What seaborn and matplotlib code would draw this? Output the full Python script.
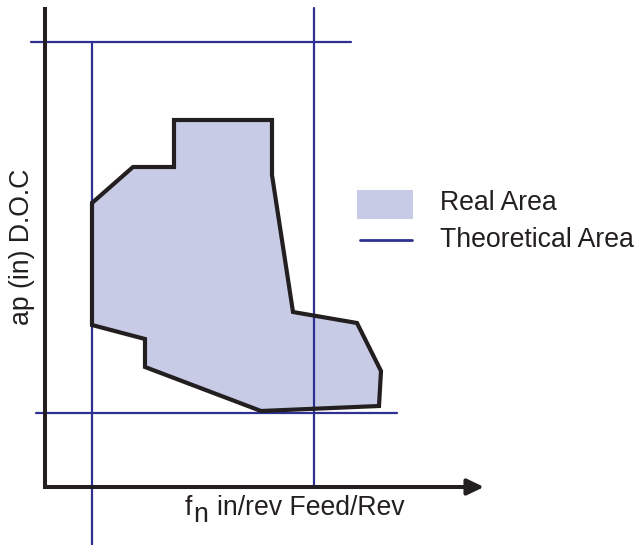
import matplotlib
matplotlib.use("Agg")
import matplotlib.pyplot as plt
from matplotlib.patches import Rectangle
import pandas as pd
import seaborn as sns

# ---- data (feed in/rev, depth of cut), arbitrary chart units ----
real_feed = [47, 88, 129, 129, 227, 227, 248, 312, 336, 334, 216, 100, 100, 47]
real_doc = [284, 320, 320, 367, 367, 312, 175, 164, 116, 81, 76, 120, 148, 162]

theo_feed_limits = [47, 269]   # min / max feed
theo_doc_limits = [74, 445]    # min / max depth of cut

legend_labels = ["Real Area", "Theoretical Area"]
x_label_main = "f"
x_label_sub = "n"
x_label_rest = "in/rev Feed/Rev"
y_label = "ap (in) D.O.C"

# ---- style ----
sns.set_style("white")
plt.rcParams["font.family"] = ["Liberation Sans", "DejaVu Sans"]

DARK = "#231f20"
BLUE = "#2e3192"
FILL = "#c8cbe6"
FS = 19.2

fig = plt.figure(figsize=(6.35, 5.45), dpi=100)
ax = fig.add_axes([0, 0, 1, 1])
ax.set_xlim(-45, 590)
ax.set_ylim(-58, 487)
ax.axis("off")

# real area fill
ax.fill(real_feed, real_doc, color=FILL, lw=0, zorder=1)

# theoretical area lines (extended beyond their intersections)
fmin, fmax = theo_feed_limits
dmin, dmax = theo_doc_limits
segs = pd.DataFrame({
    "feed": [fmin, fmin, fmax, fmax, -14, 306, -9, 352],
    "doc": [dmax, -58, 479, 0, dmax, dmax, dmin, dmin],
    "seg": [0, 0, 1, 1, 2, 2, 3, 3],
})
sns.lineplot(data=segs, x="feed", y="doc", units="seg", estimator=None,
             sort=False, color=BLUE, lw=1.6, ax=ax, zorder=2)

# real area outline
outline = pd.DataFrame({"feed": real_feed + real_feed[:1],
                        "doc": real_doc + real_doc[:1],
                        "order": range(len(real_feed) + 1)})
sns.lineplot(data=outline, x="feed", y="doc", estimator=None, sort=False,
             color=DARK, lw=3.0, ax=ax, zorder=3)
for l in ax.lines[-1:]:
    l.set_solid_joinstyle("miter")

# axes with arrow
ax.plot([0, 0, 428], [480, 0, 0], color=DARK, lw=2.9,
        solid_joinstyle="miter", solid_capstyle="butt", zorder=4)
ax.annotate("", xy=(439, 0), xytext=(420, 0),
            arrowprops=dict(arrowstyle="-|>,head_length=0.5,head_width=0.24",
                            lw=2.9, color=DARK, mutation_scale=20,
                            shrinkA=0, shrinkB=0), zorder=4)

# axis labels
ax.text(140, -28, x_label_main, fontsize=FS, color=DARK, va="baseline", ha="left")
ax.text(148, -35, x_label_sub, fontsize=FS, color=DARK, va="baseline", ha="left")
ax.text(172, -28, x_label_rest, fontsize=FS, color=DARK, va="baseline", ha="left")
ax.text(-23, 240, y_label, fontsize=FS, color=DARK, rotation=90,
        ha="center", va="center")

# legend
ax.add_patch(Rectangle((312, 268), 56, 29, color=FILL, lw=0, zorder=1))
ax.plot([315, 367], [247, 247], color=BLUE, lw=2.0)
ax.text(395, 277, legend_labels[0], fontsize=FS, color=DARK, va="baseline")
ax.text(395, 240, legend_labels[1], fontsize=FS, color=DARK, va="baseline")

fig.savefig("out.png", dpi=100)
